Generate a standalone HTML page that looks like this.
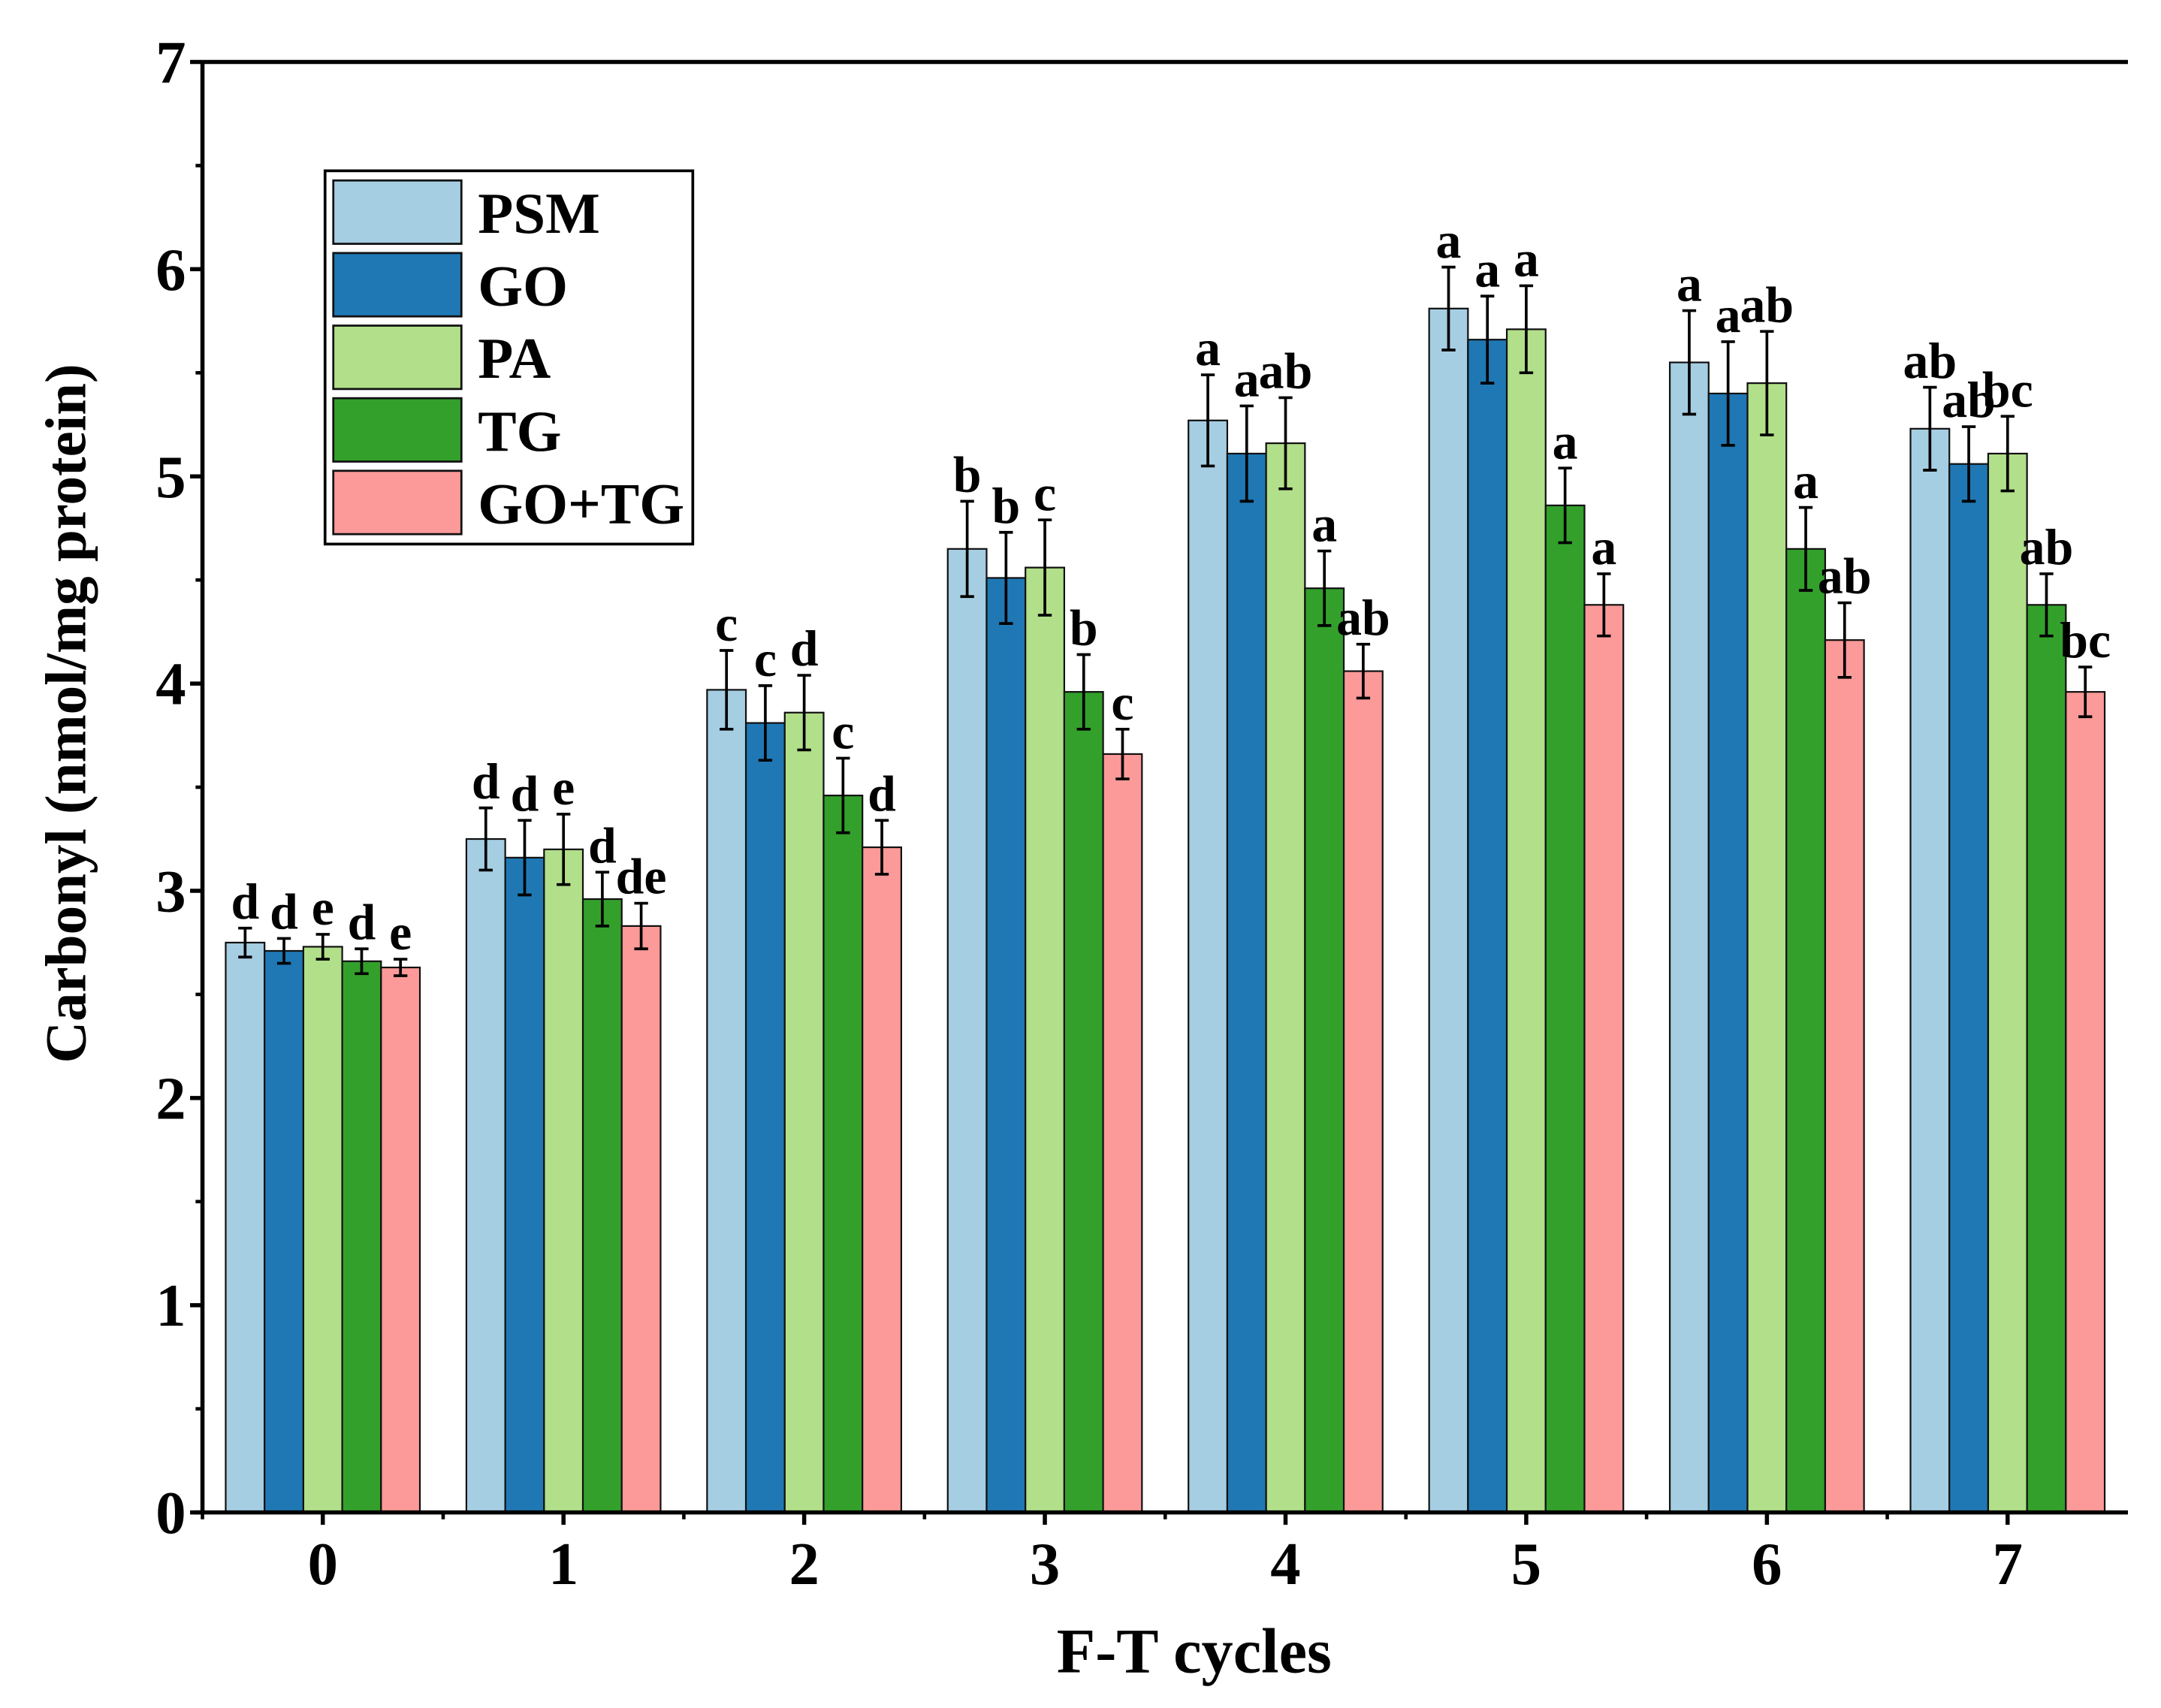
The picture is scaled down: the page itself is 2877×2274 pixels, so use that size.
<!DOCTYPE html>
<html><head><meta charset="utf-8"><style>
html,body{margin:0;padding:0;background:#fff;}
svg{display:block;}
text{font-family:"Liberation Serif",serif;font-weight:bold;fill:#000;}
</style></head><body>
<svg id="chart" width="2877" height="2274" viewBox="0 0 1569 1240" preserveAspectRatio="none" xmlns="http://www.w3.org/2000/svg">
<g id="plot"></g>
</svg>
<script>
const categories = ["0","1","2","3","4","5","6","7"];
const seriesNames = ["PSM","GO","PA","TG","GO+TG"];
const colors = ["#a6cee3","#1f78b4","#b2df8a","#33a02c","#fb9a99"];
const psm = [2.75,3.25,3.97,4.65,5.27,5.81,5.55,5.23];
const go = [2.71,3.16,3.81,4.51,5.11,5.66,5.40,5.06];
const pa = [2.73,3.20,3.86,4.56,5.16,5.71,5.45,5.11];
const tg = [2.66,2.96,3.46,3.96,4.46,4.86,4.65,4.38];
const gotg = [2.63,2.83,3.21,3.66,4.06,4.38,4.21,3.96];
const psmErr = [0.07,0.15,0.19,0.23,0.22,0.20,0.25,0.20];
const goErr = [0.06,0.18,0.18,0.22,0.23,0.21,0.25,0.18];
const paErr = [0.06,0.17,0.18,0.23,0.22,0.21,0.25,0.18];
const tgErr = [0.06,0.13,0.18,0.18,0.18,0.18,0.20,0.15];
const gotgErr = [0.04,0.11,0.13,0.12,0.13,0.15,0.18,0.12];
const psmSig = ["d","d","c","b","a","a","a","ab"];
const goSig = ["d","d","c","b","a","a","a","ab"];
const paSig = ["e","e","d","c","ab","a","ab","bc"];
const tgSig = ["d","d","c","b","a","a","a","ab"];
const gotgSig = ["e","de","d","c","ab","a","ab","bc"];
const yTicks = [0,1,2,3,4,5,6,7];

const series = [psm,go,pa,tg,gotg];
const errs = [psmErr,goErr,paErr,tgErr,gotgErr];
const sigs = [psmSig,goSig,paSig,tgSig,gotgSig];

const L=147,R=1545,T=45,B=1098;
const yMin=0,yMax=7;
const y = v => B - (v - yMin)/(yMax - yMin)*(B - T);
const step = (R - L)/categories.length;
const x = i => L + step*(i + 0.5);
const barW = 28.2;

const NS="http://www.w3.org/2000/svg";
const g=document.getElementById('plot');
function mk(tag,attrs,parent){const e=document.createElementNS(NS,tag);for(const k in attrs)e.setAttribute(k,attrs[k]);(parent||g).appendChild(e);return e;}

series.forEach((vals,s)=>{
  vals.forEach((v,i)=>{
    const cx = x(i) + (s-2)*barW;
    const r = mk('rect',{x:cx-barW/2,y:y(v),width:barW,height:B-y(v),fill:colors[s],stroke:'#111','stroke-width':1.2});
    
    
    const e = errs[s][i];
    const eg = mk('g',{stroke:'#000','stroke-width':2});
    
    
    mk('line',{x1:cx,x2:cx,y1:y(v+e),y2:y(v-e)},eg);
    mk('line',{x1:cx-5,x2:cx+5,y1:y(v+e),y2:y(v+e)},eg);
    mk('line',{x1:cx-5,x2:cx+5,y1:y(v-e),y2:y(v-e)},eg);
    const t = mk('text',{x:cx,y:y(v+e)-7,'text-anchor':'middle','font-size':37});
    t.textContent = sigs[s][i];
    
    
  });
});

const ax = mk('g',{stroke:'#000','stroke-width':3,fill:'none'});


mk('line',{x1:L,x2:R,y1:T,y2:T},ax);
mk('line',{x1:L,x2:L,y1:T,y2:B},ax);
mk('line',{x1:L-6,x2:R,y1:B,y2:B},ax);

yTicks.forEach(v=>{
  mk('line',{x1:L-9,x2:L,y1:y(v),y2:y(v),stroke:'#000','stroke-width':3});
  if(v<yMax) mk('line',{x1:L-5,x2:L,y1:y(v+0.5),y2:y(v+0.5),stroke:'#000','stroke-width':2.5});
  const t=mk('text',{x:L-12,y:y(v)+15,'text-anchor':'end','font-size':44});
  t.textContent=v;
  
  
});
categories.forEach((c,i)=>{
  mk('line',{x1:x(i),x2:x(i),y1:B,y2:B+9,stroke:'#000','stroke-width':3});
  mk('line',{x1:x(i)-step/2,x2:x(i)-step/2,y1:B,y2:B+5,stroke:'#000','stroke-width':2.5});
  const t=mk('text',{x:x(i),y:B+52,'text-anchor':'middle','font-size':44});
  t.textContent=c;
  
  
});

const xt=mk('text',{x:867,y:1214,'text-anchor':'middle','font-size':46});
xt.textContent='F-T cycles';


const yt=mk('text',{x:0,y:0,'text-anchor':'middle','font-size':42,transform:'translate(62,518) rotate(-90)'});
yt.textContent='Carbonyl (nmol/mg protein)';



const lg=mk('g',{});


mk('rect',{x:236,y:124,width:267,height:271,fill:'#fff',stroke:'#000','stroke-width':2},lg);
seriesNames.forEach((n,s)=>{
  const yy=131+s*52.7;
  const sw=mk('rect',{x:242,y:yy,width:93,height:46,fill:colors[s],stroke:'#111','stroke-width':1.5},lg);
  
  
  const t=mk('text',{x:347,y:yy+38,'font-size':42},lg);
  t.textContent=n;
  
  
});
</script>
</body></html>
